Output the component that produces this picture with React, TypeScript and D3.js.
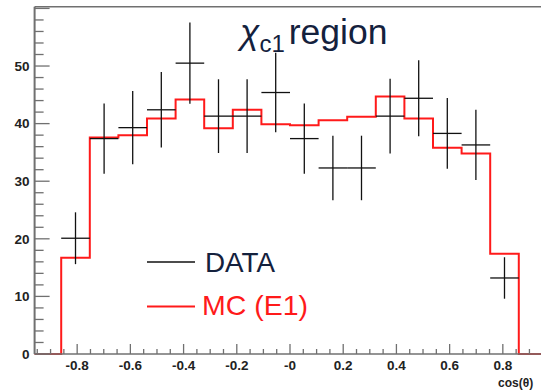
import React from "react";
import * as d3 from "d3";

// Histogram binning (cos theta)
const nBins = 16;
const lowEdge = -0.86;
const highEdge = 0.86;

// Data points (counts) and their errors
const dataValues = [20.1, 37.4, 39.3, 42.4, 50.5, 41.3, 41.3, 45.4, 37.4, 32.3, 32.3, 41.3, 44.4, 38.3, 36.3, 13.2];
const dataErrors = [4.5, 6.1, 6.35, 6.55, 7.05, 6.4, 6.4, 6.9, 6.1, 5.6, 5.6, 6.5, 6.6, 6.15, 6.1, 3.6];

// MC (E1) histogram contents
const mcValues = [16.7, 37.6, 38.0, 40.9, 44.2, 39.2, 42.4, 39.9, 39.7, 40.6, 41.2, 44.7, 40.9, 35.8, 34.8, 17.4];

// Axis ticks
const xTickLabels = [-0.8, -0.6, -0.4, -0.2, 0, 0.2, 0.4, 0.6, 0.8];
const yTickLabels = [0, 10, 20, 30, 40, 50];

const xDomain = [-0.96, 0.96];
const yDomain = [0, 60.3];

export default function App() {
  const W = 541, H = 390;
  const x = d3.scaleLinear().domain(xDomain).range([34.6, 545.4]);
  const y = d3.scaleLinear().domain(yDomain).range([354, 6.7]);
  const bw = (highEdge - lowEdge) / nBins;
  const edges = d3.range(nBins + 1).map((i) => lowEdge + i * bw);

  // step path for MC
  const pts: [number, number][] = [[xDomain[0], 0], [edges[0], 0]];
  mcValues.forEach((v, i) => {
    pts.push([edges[i], v]);
    pts.push([edges[i + 1], v]);
  });
  pts.push([edges[nBins], 0]);
  pts.push([xDomain[1], 0]);
  const line = d3.line<[number, number]>().x((d) => x(d[0])).y((d) => y(d[1]));

  const axisColor = "#707070";
  const font = "'Liberation Sans', Arial, sans-serif";

  const xMinor = d3.range(-0.95, 0.96, 0.05).map((v) => Math.round(v * 100) / 100);
  const yMinor = d3.range(0, 60.1, 2);

  return (
    <svg width={W} height={H} style={{ position: "absolute", left: 0, top: 0, background: "#fff" }}>
      <rect x={0} y={0} width={W} height={H} fill="#fff" />
      {/* frame */}
      <line x1={x(xDomain[0])} x2={x(xDomain[1])} y1={y(yDomain[1])} y2={y(yDomain[1])} stroke={axisColor} strokeWidth={1.5} />
      <line x1={x(xDomain[1])} x2={x(xDomain[1])} y1={y(yDomain[1])} y2={y(0)} stroke={axisColor} strokeWidth={1.5} />

      {/* MC histogram */}
      <path d={line(pts) || ""} fill="none" stroke="#ff1a1a" strokeWidth={2} />

      {/* data points */}
      {dataValues.map((v, i) => {
        const cx = x((edges[i] + edges[i + 1]) / 2);
        return (
          <g key={i} stroke="#111" strokeWidth={1.3}>
            <line x1={x(edges[i])} x2={x(edges[i + 1])} y1={y(v)} y2={y(v)} />
            <line x1={cx} x2={cx} y1={y(v - dataErrors[i])} y2={y(v + dataErrors[i])} />
          </g>
        );
      })}

      {/* axes */}
      <line x1={x(xDomain[0])} x2={x(xDomain[1])} y1={y(0)} y2={y(0)} stroke={axisColor} strokeWidth={1.5} />
      <line x1={x(xDomain[0])} x2={x(xDomain[0])} y1={y(0)} y2={y(yDomain[1])} stroke={axisColor} strokeWidth={2} />
      {xMinor.map((v, i) => {
        const major = Math.abs(Math.round(v * 10) / 10 - v) < 1e-6 && Math.round(v * 10) % 2 === 0;
        return (
          <line key={"xm" + i} x1={x(v)} x2={x(v)} y1={y(0)} y2={y(0) - (major ? 10 : 5)} stroke={axisColor} strokeWidth={1.3} />
        );
      })}
      {yMinor.map((v, i) => {
        const major = v % 10 === 0;
        return (
          <line key={"ym" + i} x1={x(xDomain[0])} x2={x(xDomain[0]) + (major ? 15 : 9)} y1={y(v)} y2={y(v)} stroke={axisColor} strokeWidth={1.3} />
        );
      })}
      {xTickLabels.map((v) => (
        <text key={"xt" + v} x={x(v)} y={370} textAnchor="middle" fontFamily={font} fontWeight="bold" fontSize={13.5} fill="#222">
          {v === 0 ? "-0" : v.toFixed(1)}
        </text>
      ))}
      {yTickLabels.map((v) => (
        <text key={"yt" + v} x={29.5} y={y(v)} dy="0.36em" textAnchor="end" fontFamily={font} fontWeight="bold" fontSize={13.5} fill="#222">
          {v}
        </text>
      ))}
      <text x={498} y={387} fontFamily={font} fontWeight="bold" fontSize={12} fill="#222">cos(θ)</text>

      {/* title */}
      <text x={240} y={43.5} fontFamily={font} fontSize={35.5} fill="#14213d">
        <tspan fontStyle="italic">χ</tspan>
        <tspan fontSize={24} dy={8}>c1</tspan>
        <tspan dy={-8} dx={4}>region</tspan>
      </text>

      {/* legend */}
      <line x1={147} x2={195} y1={262} y2={262} stroke="#111" strokeWidth={1.5} />
      <text x={205} y={271.5} fontFamily={font} fontSize={27.8} fill="#14213d">DATA</text>
      <line x1={147} x2={195} y1={306.5} y2={306.5} stroke="#ff1a1a" strokeWidth={2} />
      <text x={202} y={315} fontFamily={font} fontSize={28.5} fill="#ff1a1a">MC (E1)</text>
    </svg>
  );
}
